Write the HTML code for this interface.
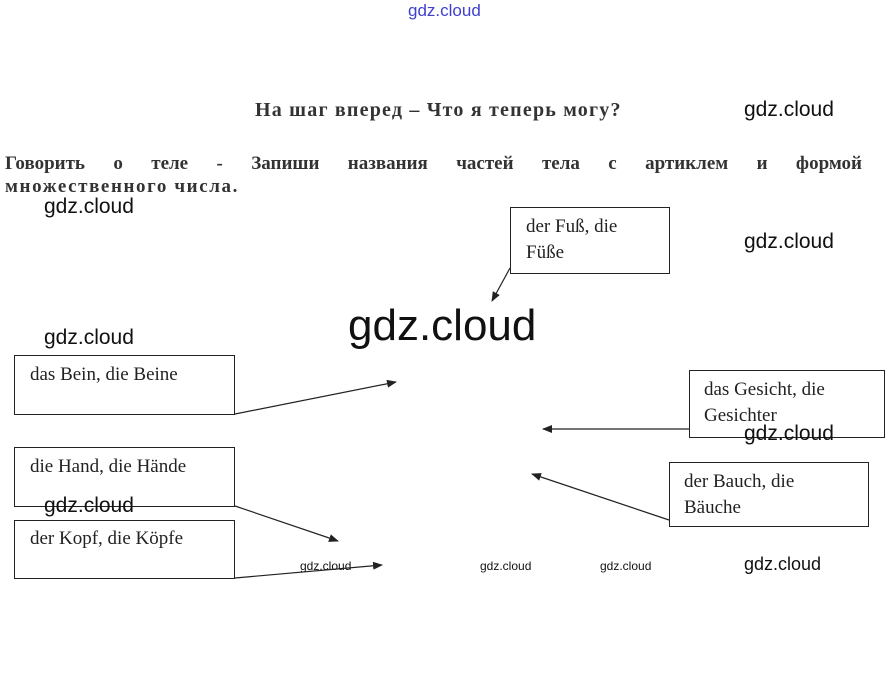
<!DOCTYPE html>
<html><head><meta charset="utf-8"><style>
body{margin:0;width:892px;height:677px;background:#fff;position:relative;overflow:hidden;font-family:"Liberation Serif",serif;}
.a{position:absolute;white-space:nowrap}
.box{position:absolute;border:1px solid #222;font-size:19px;color:#222;box-sizing:border-box;padding:6px 15px;line-height:26px}
.w{position:absolute;font-family:"Liberation Sans","DejaVu Sans",sans-serif;color:#111;white-space:nowrap}
</style></head><body>
<div class="w" style="left:408px;top:1px;font-size:17px;color:#4040d0">gdz.cloud</div>
<div class="a" style="left:255px;top:99px;font-size:20px;font-weight:bold;color:#333;letter-spacing:1.2px">На шаг вперед – Что я теперь могу?</div>
<div class="a" style="left:5px;top:151px;width:857px;font-size:19px;font-weight:bold;color:#333;white-space:normal;text-align:justify;text-align-last:justify;line-height:25px">Говорить о теле - Запиши названия частей тела с артиклем и формой</div>
<div class="a" style="left:5px;top:176px;font-size:19px;font-weight:bold;color:#333;letter-spacing:1.6px">множественного числа.</div>
<div class="w" style="left:744px;top:98px;font-size:21px">gdz.cloud</div>
<div class="w" style="left:44px;top:195px;font-size:21px">gdz.cloud</div>
<div class="w" style="left:744px;top:230px;font-size:21px">gdz.cloud</div>
<div class="w" style="left:44px;top:326px;font-size:21px">gdz.cloud</div>
<div class="w" style="left:348px;top:301px;font-size:44px">gdz.cloud</div>

<div class="box" style="left:510px;top:207px;width:160px;height:67px">der Fuß, die<br>Füße</div>
<div class="box" style="left:14px;top:355px;width:221px;height:60px">das Bein, die Beine</div>
<div class="box" style="left:689px;top:370px;width:196px;height:68px;padding-left:14px">das Gesicht, die<br>Gesichter</div>
<div class="box" style="left:14px;top:447px;width:221px;height:60px">die Hand, die Hände</div>
<div class="box" style="left:669px;top:462px;width:200px;height:65px;padding-left:14px">der Bauch, die<br>Bäuche</div>
<div class="box" style="left:14px;top:520px;width:221px;height:59px;padding-top:5px">der Kopf, die Köpfe</div>

<div class="w" style="left:744px;top:422px;font-size:21px">gdz.cloud</div>
<div class="w" style="left:44px;top:494px;font-size:21px">gdz.cloud</div>
<div class="w" style="left:744px;top:554px;font-size:18px">gdz.cloud</div>
<div class="w" style="left:300px;top:559px;font-size:12px">gdz.cloud</div>
<div class="w" style="left:480px;top:559px;font-size:12px">gdz.cloud</div>
<div class="w" style="left:600px;top:559px;font-size:12px">gdz.cloud</div>

<svg width="892" height="677" style="position:absolute;left:0;top:0">
<defs><marker id="m" markerWidth="10" markerHeight="8" refX="9" refY="4" orient="auto" markerUnits="userSpaceOnUse"><path d="M0,0 L10,4 L0,8z" fill="#222"/></marker></defs>
<g stroke="#222" stroke-width="1.2" fill="none" marker-end="url(#m)">
<line x1="510" y1="268" x2="492" y2="301"/>
<line x1="235" y1="414" x2="396" y2="382"/>
<line x1="689" y1="429" x2="543" y2="429"/>
<line x1="235" y1="506" x2="338" y2="541"/>
<line x1="669" y1="520" x2="532" y2="474"/>
<line x1="235" y1="578" x2="382" y2="565"/>
</g>
</svg>
</body></html>
